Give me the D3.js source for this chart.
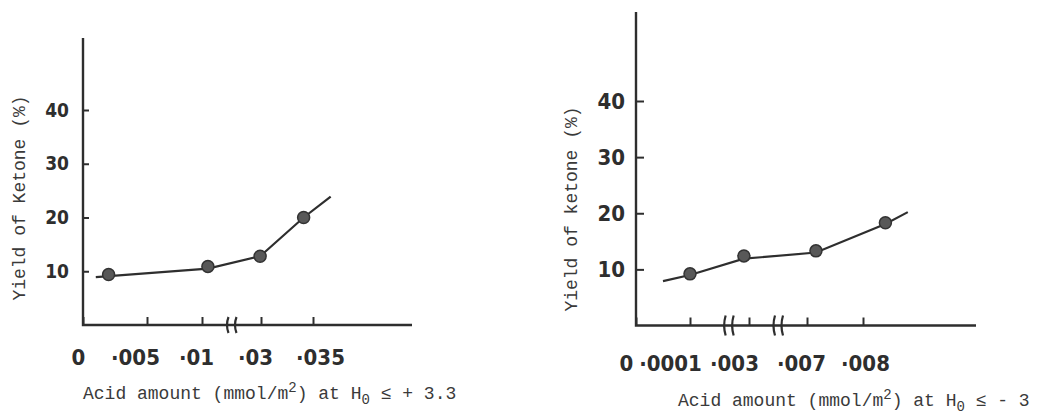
<!DOCTYPE html>
<html>
<head>
<meta charset="utf-8">
<script src="https://cdn.jsdelivr.net/npm/d3@7"></script>
<style>
  body { margin: 0; background: #fff; }
</style>
</head>
<body>
<svg id="chart" width="1043" height="419"></svg>
<script>
// left panel, acid amount at H0 <= +3.3
const ticksLeft = [0, 0.005, 0.01, 0.03, 0.035];
const tickLabelsLeft = ["0", "·005", "·01", "·03", "·035"];
const breaksLeft = [0.02];
const pointsLeftX = [0.002, 0.012, 0.0297, 0.0341];
const pointsLeftY = [9.4, 10.9, 12.8, 20.0];
const lineLeftX = [0.001, 0.012, 0.0297, 0.0341, 0.0367];
const lineLeftY = [8.9, 10.5, 12.8, 20.0, 23.9];

// right panel, acid amount at H0 <= -3 (title is cropped in the source)
const ticksRight = [0, 0.0001, 0.003, 0.007, 0.008];
const tickLabelsRight = ["0", "·0001", "·003", "·007", "·008"];
const breaksRight = [0.002, 0.005];
const pointsRightX = [0.0001, 0.00275, 0.00716, 0.0084];
const pointsRightY = [9.2, 12.4, 13.3, 18.3];
const lineRightX = [0.00005, 0.0001, 0.00275, 0.00716, 0.0084, 0.0088];
const lineRightY = [7.9, 9.0, 11.9, 13.0, 18.1, 20.2];

const yTicks = [10, 20, 30, 40];

const INK = "#2e2e2e";
const TICK_FONT = "'DejaVu Sans Condensed', 'DejaVu Sans', sans-serif";
const TYPE_FONT = "'Liberation Mono', monospace";
const svg = d3.select("#chart");

// hand lettered labels are not centred on their ticks
const panels = [
    {
        ticks: ticksLeft, labels: tickLabelsLeft, breaks: breaksLeft,
        px: pointsLeftX, py: pointsLeftY, lx: lineLeftX, ly: lineLeftY,
        xRange: [83, 147, 202, 261, 313], yRange: [325, 110],
        top: 38, right: 412, yTickLen: 6, yPad: 14, yFont: 19,
        xLabelY: 365, nudge: [-5, -12, -6, -6, 7], breakH: 8,
        yTitle: "Yield of Ketone (%)", yTitleX: 25, yTitleY: 198,
        xTitleX: 83, xTitleY: 399, xTitleTail: " ≤ + 3.3"
    },
    {
        ticks: ticksRight, labels: tickLabelsRight, breaks: breaksRight,
        px: pointsRightX, py: pointsRightY, lx: lineRightX, ly: lineRightY,
        xRange: [636, 690, 749, 807, 863], yRange: [325.5, 101],
        top: 12, right: 976, yTickLen: 8, yPad: 11, yFont: 22,
        xLabelY: 371, nudge: [-10, -20, -15, -6, 2], breakH: 10,
        yTitle: "Yield of ketone (%)", yTitleX: 577, yTitleY: 209,
        xTitleX: 678, xTitleY: 406, xTitleTail: " ≤ - 3"
    }
];

function drawPanel (p) {
    const x = d3.scaleLinear().domain(p.ticks).range(p.xRange);
    const y = d3.scaleLinear().domain([0, 40]).range(p.yRange);
    const g = svg.append("g");

    // axis frame
    g.append("path")
        .attr("d", `M${x(0)},${p.top}V${y(0)}H${p.right}`)
        .attr("fill", "none")
        .attr("stroke", INK)
        .attr("stroke-width", 2.4);

    const yAxis = g.append("g")
        .attr("transform", `translate(${x(0)},0)`)
        .call(d3.axisLeft(y).tickValues(yTicks).tickSize(-p.yTickLen).tickPadding(p.yPad));

    const xAxis = g.append("g")
        .attr("transform", `translate(0,${y(0)})`)
        .call(d3.axisBottom(x).tickValues(p.ticks).tickSize(-8)
            .tickFormat((d, i) => p.labels[i]));

    [yAxis, xAxis].forEach(a => {
        a.select(".domain").remove();
        a.selectAll(".tick line").attr("stroke", INK).attr("stroke-width", 2);
        a.selectAll("text")
            .attr("fill", INK)
            .attr("font-family", TICK_FONT)
            .attr("font-weight", "bold");
    });
    yAxis.selectAll("text").attr("font-size", p.yFont);
    xAxis.selectAll("text")
        .attr("font-size", 22)
        .attr("dy", null)
        .attr("y", p.xLabelY - y(0))
        .attr("x", (d, i) => p.nudge[i]);

    // axis break marks
    p.breaks.forEach(b => {
        [-4, 4].forEach(off => {
            const bx = x(b) + off;
            g.append("path")
                .attr("d", `M${bx + 1},${y(0) - p.breakH}Q${bx - 2},${y(0)} ${bx + 1},${y(0) + p.breakH}`)
                .attr("fill", "none")
                .attr("stroke", INK)
                .attr("stroke-width", 2.2);
        });
    });

    const line = d3.line().x(d => x(d[0])).y(d => y(d[1]));
    g.append("path")
        .datum(d3.zip(p.lx, p.ly))
        .attr("d", line)
        .attr("fill", "none")
        .attr("stroke", INK)
        .attr("stroke-width", 2.2);

    g.selectAll(".pt")
        .data(d3.zip(p.px, p.py))
        .join("circle")
        .attr("class", "pt")
        .attr("cx", d => x(d[0]))
        .attr("cy", d => y(d[1]))
        .attr("r", 6)
        .attr("fill", "#585858")
        .attr("stroke", "#333")
        .attr("stroke-width", 1.5);

    // titles, typewritten
    g.append("text")
        .attr("transform", `translate(${p.yTitleX},${p.yTitleY}) rotate(-90)`)
        .attr("text-anchor", "middle")
        .attr("font-family", TYPE_FONT)
        .attr("font-size", 18)
        .attr("fill", "#3a3a3a")
        .text(p.yTitle);

    const t = g.append("text")
        .attr("x", p.xTitleX)
        .attr("y", p.xTitleY)
        .attr("font-family", TYPE_FONT)
        .attr("font-size", 18)
        .attr("fill", "#3a3a3a");
    t.append("tspan").text("Acid amount (mmol/m");
    t.append("tspan").attr("dy", -7).attr("font-size", 14).text("2");
    t.append("tspan").attr("dy", 7).text(") at H");
    t.append("tspan").attr("dy", 5).attr("font-size", 14).text("0");
    t.append("tspan").attr("dy", -5).text(p.xTitleTail);
}

panels.forEach(drawPanel);
</script>
</body>
</html>
